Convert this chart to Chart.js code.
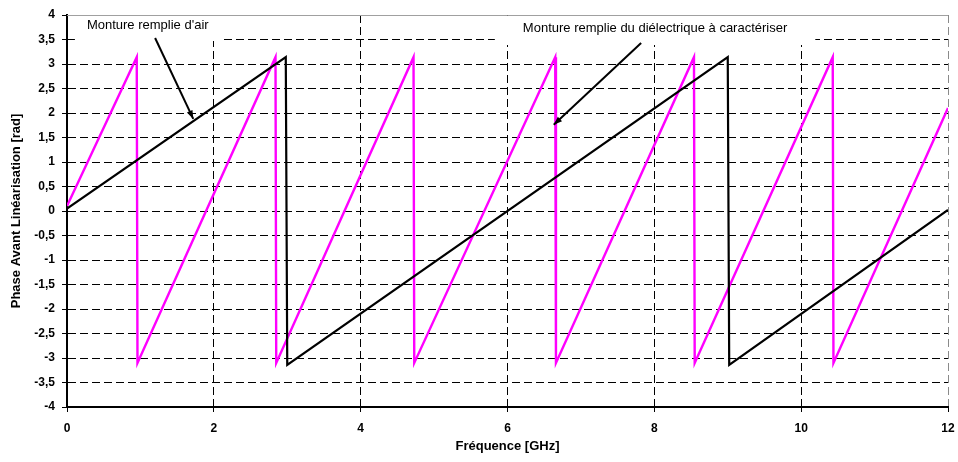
<!DOCTYPE html>
<html>
<head>
<meta charset="utf-8">
<script src="https://cdn.jsdelivr.net/npm/chart.js@4/dist/chart.umd.min.js"></script>
<style>
html, body { margin: 0; padding: 0; background: #fff; }
#wrap { width: 958px; height: 462px; }
</style>
</head>
<body>
<div id="wrap"><canvas id="myChart" width="958" height="462"></canvas></div>
<script>
// corners of the two phase curves (GHz / rad)
var airFreq  = [0, 2.98, 3.0, 9.0, 9.02, 12];
var airPhase = [0.05, 3.14, -3.14, 3.14, -3.14, 0.02];

var dielFreq  = [0, 0.95, 0.96, 2.84, 2.85, 4.72, 4.73, 6.65, 6.66, 8.54, 8.55, 10.43, 10.44, 12];
var dielPhase = [0.1, 3.14, -3.1, 3.14, -3.1, 3.14, -3.1, 3.14, -3.1, 3.14, -3.1, 3.14, -3.1, 2.1];

var xTicks = [0, 2, 4, 6, 8, 10, 12];
var yTicks = [-4, -3.5, -3, -2.5, -2, -1.5, -1, -0.5, 0, 0.5, 1, 1.5, 2, 2.5, 3, 3.5, 4];

var labelAir = "Monture remplie d'air";
var labelDiel = "Monture remplie du diélectrique à caractériser";

function toPoints(xs, ys) {
    var pts = [];
    for (var i = 0; i < xs.length; i++) {
        pts.push({x: xs[i], y: ys[i]});
    }
    return pts;
}

// callouts, placed in data units
var notes = [
    {text: labelAir, x: 1.1, y: 3.78, padX: 12, padY: 6, from: [1.2, 3.53], to: [1.72, 1.88]},
    {text: labelDiel, x: 8.01, y: 3.73, padX: 28, padY: 8, from: [7.82, 3.43], to: [6.63, 1.76]}
];
var noteFont = '13px "Liberation Sans", Arial, sans-serif';

const notesPlugin = {
    id: 'notes',
    beforeDatasetsDraw: function (chart) {
        var ctx = chart.ctx, a = chart.chartArea;
        ctx.save();
        // top frame line
        ctx.strokeStyle = '#a0a0a0';
        ctx.lineWidth = 1;
        ctx.beginPath();
        ctx.moveTo(a.left, a.top + 0.5);
        ctx.lineTo(a.right, a.top + 0.5);
        ctx.stroke();
        ctx.font = noteFont;
        notes.forEach(function (n) {
            var cx = chart.scales.x.getPixelForValue(n.x);
            var cy = chart.scales.y.getPixelForValue(n.y);
            var w = ctx.measureText(n.text).width + 2 * n.padX;
            var h = 13 + 2 * n.padY;
            ctx.fillStyle = '#fff';
            ctx.fillRect(cx - w / 2, Math.max(cy - h / 2, a.top + 1), w, h);
        });
        ctx.restore();
    },
    afterDatasetsDraw: function (chart) {
        var ctx = chart.ctx;
        ctx.save();
        ctx.font = noteFont;
        ctx.fillStyle = '#000';
        ctx.strokeStyle = '#000';
        ctx.textAlign = 'center';
        ctx.textBaseline = 'middle';
        notes.forEach(function (n) {
            var sx = chart.scales.x, sy = chart.scales.y;
            ctx.fillText(n.text, sx.getPixelForValue(n.x), sy.getPixelForValue(n.y));
            var x1 = sx.getPixelForValue(n.from[0]), y1 = sy.getPixelForValue(n.from[1]);
            var x2 = sx.getPixelForValue(n.to[0]), y2 = sy.getPixelForValue(n.to[1]);
            ctx.lineWidth = 2;
            ctx.beginPath();
            ctx.moveTo(x1, y1);
            ctx.lineTo(x2, y2);
            ctx.stroke();
            var ang = Math.atan2(y2 - y1, x2 - x1);
            ctx.beginPath();
            ctx.moveTo(x2, y2);
            ctx.lineTo(x2 - 9 * Math.cos(ang - 0.35), y2 - 9 * Math.sin(ang - 0.35));
            ctx.lineTo(x2 - 9 * Math.cos(ang + 0.35), y2 - 9 * Math.sin(ang + 0.35));
            ctx.closePath();
            ctx.fill();
        });
        ctx.restore();
    }
};

var tickFont = {family: '"Liberation Sans", Arial, sans-serif', size: 12, weight: 'bold'};
var titleFont = {family: '"Liberation Sans", Arial, sans-serif', size: 13, weight: 'bold'};

const data = {
    datasets: [{
        label: 'air',
        data: toPoints(airFreq, airPhase),
        borderColor: '#000000',
        borderWidth: 2.2,
        pointRadius: 0,
        tension: 0
    }, {
        label: 'dielectrique',
        data: toPoints(dielFreq, dielPhase),
        borderColor: '#ff00ff',
        borderWidth: 2.4,
        pointRadius: 0,
        tension: 0
    }]
};

const config = {
    type: 'line',
    data: data,
    options: {
        responsive: false,
        devicePixelRatio: 1,
        animation: false,
        layout: {padding: {top: 15, right: 10, left: 0, bottom: 0}},
        plugins: {legend: {display: false}, tooltip: {enabled: false}},
        scales: {
            x: {
                type: 'linear',
                min: 0,
                max: 12,
                afterBuildTicks: function (s) { s.ticks = xTicks.map(function (v) { return {value: v}; }); },
                afterFit: function (s) { s.height = 55; s.paddingLeft = 0; s.paddingRight = 0; },
                grid: {
                    color: function (c) { return c.tick && c.tick.value === 12 ? '#8a8a8a' : '#000'; },
                    lineWidth: 1,
                    tickLength: 5,
                    tickColor: '#000',
                    tickWidth: 1,
                    tickBorderDash: []
                },
                border: {display: true, color: '#000', width: 2, dash: [8, 4]},
                ticks: {font: tickFont, color: '#000', padding: 9, maxRotation: 0},
                title: {display: true, text: 'Fréquence [GHz]', font: titleFont, color: '#000', padding: {top: 0, bottom: 8}}
            },
            y: {
                min: -4,
                max: 4,
                afterBuildTicks: function (s) { s.ticks = yTicks.map(function (v) { return {value: v}; }); },
                afterFit: function (s) { s.width = 67; s.paddingTop = 0; s.paddingBottom = 0; },
                grid: {
                    color: function (c) { return c.tick && c.tick.value === 4 ? 'rgba(0,0,0,0)' : '#000'; },
                    lineWidth: 1,
                    tickLength: 5,
                    tickColor: '#000',
                    tickWidth: 1,
                    tickBorderDash: []
                },
                border: {display: true, color: '#000', width: 2, dash: [8, 4]},
                ticks: {
                    font: tickFont,
                    color: '#000',
                    padding: 7,
                    callback: function (v) { return String(v).replace('.', ','); }
                },
                title: {display: true, text: 'Phase Avant Linéarisation [rad]', font: titleFont, color: '#000', padding: {top: 9, bottom: 0}}
            }
        }
    },
    plugins: [notesPlugin]
};

const myChart = new Chart(
    document.getElementById('myChart'),
    config
);
</script>
</body>
</html>
